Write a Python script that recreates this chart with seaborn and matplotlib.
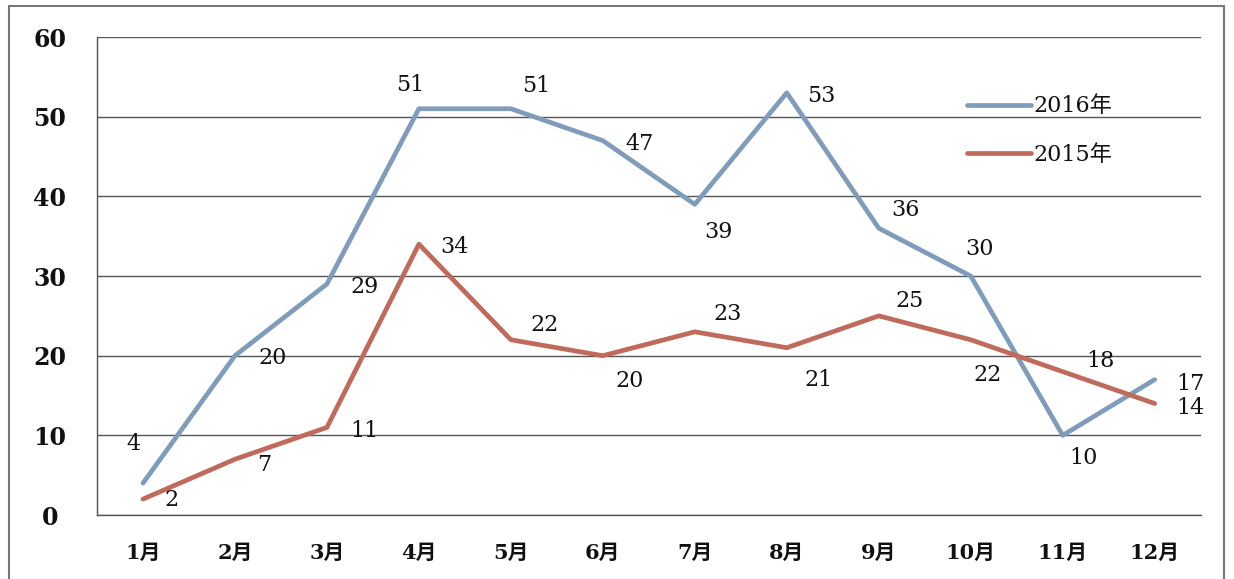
import numpy as np
import pandas as pd
import seaborn as sns
import matplotlib.pyplot as plt
from matplotlib.patches import Rectangle

months = ["1月", "2月", "3月", "4月", "5月", "6月", "7月", "8月", "9月", "10月", "11月", "12月"]
sales_2016 = [4, 20, 29, 51, 51, 47, 39, 53, 36, 30, 10, 17]
sales_2015 = [2, 7, 11, 34, 22, 20, 23, 21, 25, 22, 18, 14]
series_names = ["2016年", "2015年"]

# label offsets in pixels (style only)
off_2016 = [(-10, 39), (38, -2), (38, -3), (-9, 24), (25, 23), (37, -3),
            (24, -28), (35, -3), (27, 18), (9, 27), (21, -23), (36, -4)]
off_2015 = [(29, -1), (29, -6), (38, -4), (36, -3), (34, 15), (27, -25),
            (33, 18), (32, -32), (31, 15), (17, -35), (38, 11), (36, -5)]

sns.set_theme(style="white")
font = ["DejaVu Serif", "Noto Sans CJK JP"]
plt.rcParams["font.family"] = font

df = pd.DataFrame({
    "pos": list(range(len(months))) * 2,
    "value": sales_2016 + sales_2015,
    "year": [series_names[0]] * len(months) + [series_names[1]] * len(months),
})
colors = {"2016年": "#7f9cbb", "2015年": "#c06a5c"}

fig = plt.figure(figsize=(12.34, 5.79), dpi=100)
ax = fig.add_axes([0.0786, 0.1105, 0.8944, 0.8255])

sns.lineplot(data=df, x="pos", y="value", hue="year", palette=colors,
             linewidth=3.4, ax=ax, sort=False)

for vals, offs in [(sales_2016, off_2016), (sales_2015, off_2015)]:
    for i, (v, o) in enumerate(zip(vals, offs)):
        ax.annotate(str(v), (i, v), xytext=o, textcoords="offset pixels",
                    ha="center", va="center", fontsize=16, color="#111111")

ax.set_xlim(-0.5, len(months) - 0.5)
ax.set_ylim(0, 60)
ax.set_yticks(range(0, 61, 10))
ax.set_xticks(range(len(months)))
ax.set_xticklabels(months, fontweight="bold")
ax.set_xticks(np.arange(-0.5, len(months)), minor=True)
ax.tick_params(axis="x", which="major", length=0, pad=20, labelsize=15, labelcolor="#111111")
ax.tick_params(axis="x", which="minor", length=7, direction="out", color="#555555", width=1)
ax.tick_params(axis="y", length=8, color="#555555", width=1, pad=26, labelsize=17,
               labelcolor="#111111")
for lab in ax.get_yticklabels():
    lab.set_horizontalalignment("center")
    lab.set_fontweight("bold")
ax.yaxis.grid(True, color="#555555", linewidth=1)
ax.set_xlabel("")
ax.set_ylabel("")
for s in ["top", "right"]:
    ax.spines[s].set_visible(False)
for s in ["left", "bottom"]:
    ax.spines[s].set_color("#555555")
    ax.spines[s].set_linewidth(1)

leg = ax.legend(title=None, frameon=False, loc="upper left", bbox_to_anchor=(0.77, 0.92),
                fontsize=16, handlelength=2.9, handletextpad=0.1, labelspacing=1.2)
for t in leg.get_texts():
    t.set_color("#111111")

fig.patches.append(Rectangle((0.007, -0.02), 0.985, 1.01, transform=fig.transFigure,
                             fill=False, edgecolor="#777777", linewidth=1.5))

fig.savefig("out.png", dpi=100)
